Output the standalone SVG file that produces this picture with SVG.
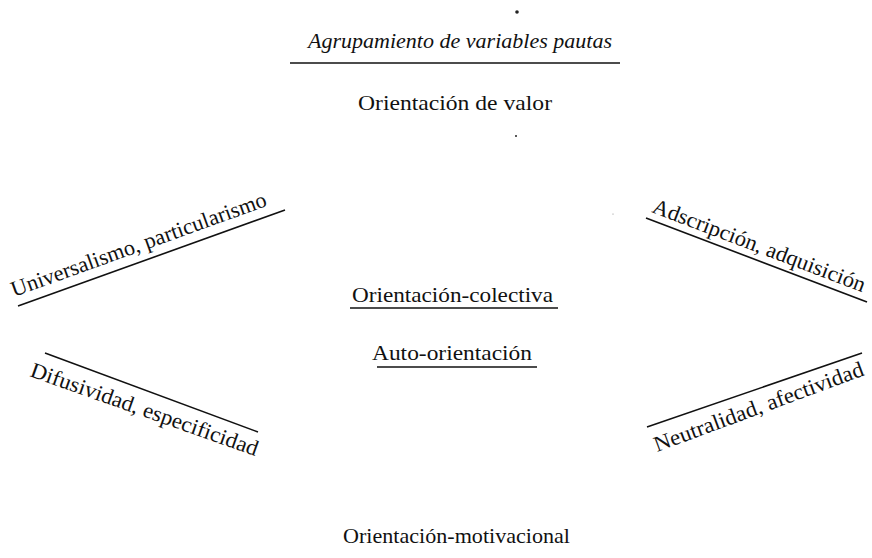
<svg xmlns="http://www.w3.org/2000/svg" width="872" height="558" viewBox="0 0 872 558">
<style>
text{font-family:"Liberation Serif","Times New Roman",serif;font-size:22px;fill:#111}
.it{font-style:italic}
.rule{stroke:#111;stroke-width:1.6;fill:none}
</style>
<rect width="872" height="558" fill="#fff"/>
<g id="specks" fill="#222">
<circle cx="517" cy="12" r="1.8"/>
<circle cx="516" cy="136" r="1"/>
<circle cx="613" cy="214" r="0.6" fill="#888"/>
</g>
<g id="title">
<text class="it" x="308" y="48" textLength="304" lengthAdjust="spacingAndGlyphs">Agrupamiento de variables pautas</text>
<line class="rule" x1="290" y1="63" x2="620" y2="63"/>
</g>
<g id="orientacion-valor">
<text x="358" y="110" textLength="194" lengthAdjust="spacingAndGlyphs">Orientación de valor</text>
</g>
<g id="universalismo">
<text transform="translate(14,297) rotate(-19.8)" textLength="270" lengthAdjust="spacingAndGlyphs">Universalismo, particularismo</text>
<line class="rule" x1="18" y1="306" x2="285" y2="210"/>
</g>
<g id="adscripcion">
<text transform="translate(651,212) rotate(20.8)" textLength="226" lengthAdjust="spacingAndGlyphs">Adscripción, adquisición</text>
<line class="rule" x1="646" y1="218" x2="867" y2="302"/>
</g>
<g id="orientacion-colectiva">
<text x="352" y="302" textLength="201" lengthAdjust="spacingAndGlyphs">Orientación-colectiva</text>
<line class="rule" x1="350" y1="308" x2="558" y2="308"/>
</g>
<g id="auto-orientacion">
<text x="372" y="360" textLength="160" lengthAdjust="spacingAndGlyphs">Auto-orientación</text>
<line class="rule" x1="377" y1="367" x2="537" y2="367"/>
</g>
<g id="difusividad">
<line class="rule" x1="45" y1="353" x2="258" y2="432"/>
<text transform="translate(29,376) rotate(19.5)" textLength="240" lengthAdjust="spacingAndGlyphs">Difusividad, especificidad</text>
</g>
<g id="neutralidad">
<line class="rule" x1="647" y1="427" x2="862" y2="353"/>
<text transform="translate(657,452) rotate(-20.3)" textLength="222" lengthAdjust="spacingAndGlyphs">Neutralidad, afectividad</text>
</g>
<g id="orientacion-motivacional">
<text x="343" y="543" textLength="227" lengthAdjust="spacingAndGlyphs">Orientación-motivacional</text>
</g>
<g id="connectors"></g>
</svg>
